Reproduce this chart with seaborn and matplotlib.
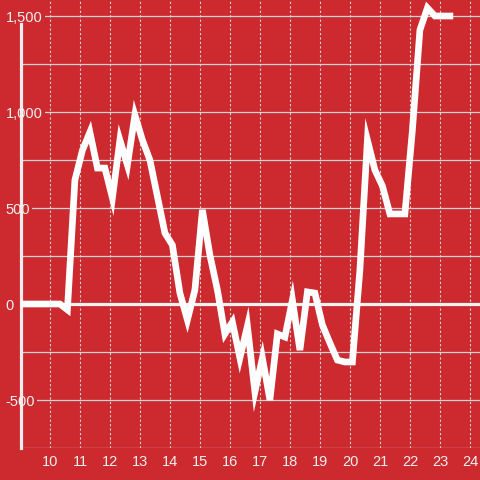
import matplotlib
matplotlib.use("Agg")
import matplotlib.pyplot as plt
import seaborn as sns
import numpy as np
import pandas as pd
from matplotlib.ticker import FixedLocator, FuncFormatter

# hours of the day (quarter-hour steps) and the value at each step
hours = [9.08, 9.33, 9.58, 9.83, 10.08, 10.33, 10.58, 10.83, 11.08, 11.33,
         11.58, 11.83, 12.08, 12.33, 12.58, 12.83, 13.08, 13.33, 13.58, 13.83,
         14.08, 14.33, 14.58, 14.83, 15.08, 15.33, 15.58, 15.83, 16.08, 16.33,
         16.58, 16.83, 17.08, 17.33, 17.58, 17.83, 18.08, 18.33, 18.58, 18.83,
         19.08, 19.33, 19.58, 19.83, 20.08, 20.33, 20.58, 20.83, 21.08, 21.33,
         21.58, 21.83, 22.08, 22.33, 22.58, 22.83, 23.08, 23.33]
values = [0, 0, 0, 0, 0, 0, -30, 645, 800, 895,
          708, 708, 552, 854, 724, 984, 854, 750, 560, 370,
          307, 57, -83, 73, 490, 255, 73, -156, -94, -281,
          -115, -458, -281, -500, -156, -172, 21, -240, 63, 57,
          -109, -203, -292, -302, -302, 177, 854, 698, 615, 469,
          469, 469, 906, 1427, 1542, 1500, 1500, 1500]
x_ticks = list(range(10, 25))
y_ticks = list(range(-750, 1501, 250))

red = "#cc2a2f"
plt.rcParams["font.family"] = ["Liberation Sans", "DejaVu Sans"]

df = pd.DataFrame({"hour": hours, "value": values})

fig = plt.figure(figsize=(4.8, 4.8), dpi=100, facecolor=red)
ax = fig.add_axes([21 / 480, 32 / 480, 459 / 480, 448 / 480])
ax.set_facecolor(red)

sns.lineplot(data=df, x="hour", y="value", ax=ax, color="white", lw=4.8,
             solid_capstyle="projecting", solid_joinstyle="miter", zorder=3)

ax.axhline(0, color="#f2f2f2", lw=2.3, zorder=2)

ax.set_xlim(10 - 29 / 30, 10 + 430 / 30)
ax.set_ylim(-750, 304 * 250 / 48)
ax.xaxis.set_major_locator(FixedLocator(x_ticks))
ax.yaxis.set_major_locator(FixedLocator(y_ticks))
ax.yaxis.set_major_formatter(FuncFormatter(lambda v, p: f"{v:,.0f}" if v % 500 == 0 else ""))

ax.grid(axis="y", color="#d4d4d4", lw=0.9, ls="-")
ax.grid(axis="x", color="#d4d4d4", lw=0.8, ls=(0, (2, 2)))

ax.tick_params(axis="both", length=0, colors="#f0f0f0", labelsize=10.5)
ax.tick_params(axis="x", pad=5)
ax.tick_params(axis="y", pad=11)
for lbl in ax.get_yticklabels():
    lbl.set_horizontalalignment("left")
    lbl.set_bbox(dict(facecolor=red, edgecolor="none", pad=1.5))

for s in ["top", "right", "bottom"]:
    ax.spines[s].set_visible(False)
ax.spines["left"].set_color("#eeeeee")
ax.spines["left"].set_linewidth(2.3)
ax.spines["left"].set_bounds(-750, 1460)
ax.set_xlabel("")
ax.set_ylabel("")

fig.savefig("out.png", dpi=100, facecolor=red)
